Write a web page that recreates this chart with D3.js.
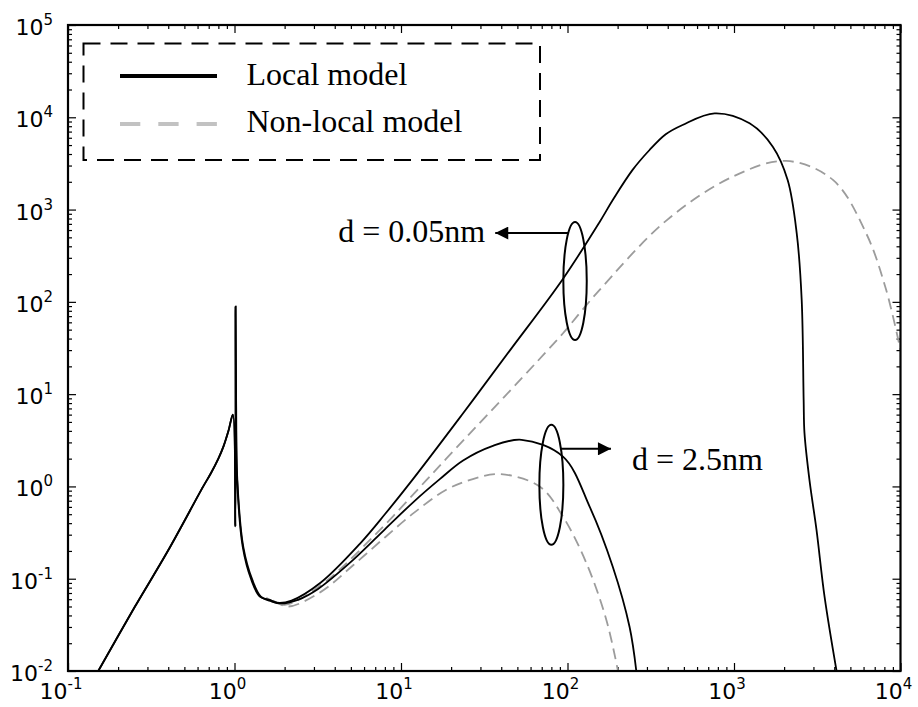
<!DOCTYPE html>
<html>
<head>
<meta charset="utf-8">
<script src="https://cdn.jsdelivr.net/npm/d3@7"></script>
<style>
  body { margin: 0; background: #fff; }
  .tick line { stroke: #000; stroke-width: 1.2px; }
</style>
</head>
<body>
<div id="chart"></div>
<script>
// DATA
// local model, d = 0.05nm
localThinX = [0.152, 0.251, 0.396, 0.649, 0.72, 0.8, 0.86, 0.92, 0.978, 1.012, 1.015, 1.022, 1.037, 1.12, 1.26, 1.42, 1.63, 1.8, 2.2, 3.3, 5.66, 8, 11.8, 23, 45, 93.6, 156, 187, 246, 311, 389, 491, 765, 1240, 1710, 2100, 2380, 2550, 2620, 2650, 2840, 3130, 3500, 4130];
localThinY = [0.01, 0.049, 0.197, 1.0, 1.38, 2.0, 2.73, 4.0, 6.0, 0.37, 89, 10, 1.17, 0.223, 0.098, 0.064, 0.059, 0.055, 0.058, 0.091, 0.239, 0.499, 1.2, 5.84, 29.6, 176, 735, 1270, 2690, 4420, 6550, 8260, 11040, 8610, 4800, 2090, 557, 105, 8.65, 3.8, 1.17, 0.338, 0.0635, 0.01];

// local model, d = 2.5nm
localThickX = [0.152, 0.251, 0.396, 0.649, 0.72, 0.8, 0.86, 0.92, 0.978, 1.012, 1.015, 1.022, 1.04, 1.13, 1.28, 1.44, 1.66, 1.9, 2.4, 3.16, 5.16, 8, 12, 17.1, 23.6, 35, 53, 94, 136, 187, 236, 259];
localThickY = [0.01, 0.049, 0.197, 1.0, 1.38, 2.0, 2.73, 4.0, 6.0, 0.37, 89, 10, 1.17, 0.22, 0.097, 0.064, 0.057, 0.054, 0.059, 0.077, 0.16, 0.343, 0.69, 1.2, 1.91, 2.72, 3.2, 2.1, 0.60, 0.135, 0.030, 0.01];

// non-local model, d = 0.05nm
nonlocalThinX = [1.55, 2.0, 3.3, 7.13, 14.2, 18.7, 94, 118, 156, 392, 984, 2060, 3930, 6220, 8200, 10000];
nonlocalThinY = [0.062, 0.052, 0.085, 0.31, 1.17, 2.0, 45.7, 75, 135, 760, 2275, 3365, 2095, 553, 135, 30];

// non-local model, d = 2.5nm
nonlocalThickX = [1.7, 2.1, 3.3, 5.16, 8, 12, 18.7, 27, 39.2, 68, 94, 130, 171, 201];
nonlocalThickY = [0.058, 0.050, 0.072, 0.14, 0.28, 0.52, 0.92, 1.2, 1.36, 1.0, 0.47, 0.147, 0.036, 0.01];

// TICKS (powers of ten)
xTickExps = ["-1", "0", "1", "2", "3", "4"];
yTickExps = ["-2", "-1", "0", "1", "2", "3", "4", "5"];

// LEGEND AND NOTES
legendLabels = ["Local model", "Non-local model"];
noteLabels = ["d = 0.05nm", "d = 2.5nm"];

// CHART SIZE
margin = {top: 25, right: 17.5, bottom: 36, left: 68},
    width = 918 - margin.left - margin.right,
    height = 707 - margin.top - margin.bottom;

svg = d3.select("#chart")
          .append("svg")
            .attr("width", 918)
            .attr("height", 707)
          .append("g")
            .attr("transform", "translate(" + margin.left + "," + margin.top + ")");

// SCALES
x = d3.scaleLog().domain([0.1, 1e4]).range([0, width]);
y = d3.scaleLog().domain([0.01, 1e5]).range([height, 0]);

xMajor = xTickExps.map(function(e) { return Math.pow(10, +e); });
yMajor = yTickExps.map(function(e) { return Math.pow(10, +e); });
minorOf = function(majors) {
    out = [];
    majors.slice(0, -1).forEach(function(m) {
        d3.range(2, 10).forEach(function(k) { out.push(m * k); });
    });
    return out;
}

// TICKS ON ALL FOUR SIDES, POINTING IN
drawTicks = function(axisFn, scale, values, size, transform) {
    g = svg.append("g")
        .attr("transform", transform)
        .call(axisFn(scale).tickValues(values).tickSize(-size).tickFormat(""));
    g.select(".domain").remove();
}
drawTicks(d3.axisBottom, x, xMajor, 8, "translate(0," + height + ")");
drawTicks(d3.axisBottom, x, minorOf(xMajor), 4, "translate(0," + height + ")");
drawTicks(d3.axisTop, x, xMajor, 8, "translate(0,0)");
drawTicks(d3.axisTop, x, minorOf(xMajor), 4, "translate(0,0)");
drawTicks(d3.axisLeft, y, yMajor, 8, "translate(0,0)");
drawTicks(d3.axisLeft, y, minorOf(yMajor), 4, "translate(0,0)");
drawTicks(d3.axisRight, y, yMajor, 8, "translate(" + width + ",0)");
drawTicks(d3.axisRight, y, minorOf(yMajor), 4, "translate(" + width + ",0)");

// TICK LABELS
tickFont = "'DejaVu Sans', sans-serif";
xLabels = svg.append("g").selectAll("text")
    .data(xTickExps)
    .enter()
    .append("text")
      .attr("x", function(d) { return x(Math.pow(10, +d)) - 7; })
      .attr("y", height + 28)
      .attr("text-anchor", "middle")
      .style("font-family", tickFont)
      .style("font-size", "22px");
xLabels.append("tspan").text("10");
xLabels.append("tspan").attr("dy", -10).style("font-size", "15px").text(function(d) { return d; });

yLabels = svg.append("g").selectAll("text")
    .data(yTickExps)
    .enter()
    .append("text")
      .attr("x", -15)
      .attr("y", function(d) { return y(Math.pow(10, +d)) + 10; })
      .attr("text-anchor", "end")
      .style("font-family", tickFont)
      .style("font-size", "22px");
yLabels.append("tspan").text("10");
yLabels.append("tspan").attr("dy", -10).style("font-size", "15px").text(function(d) { return d; });

// CURVES
svg.append("clipPath")
    .attr("id", "clip")
  .append("rect")
    .attr("width", width)
    .attr("height", height);

zip = function(xs, ys) { return xs.map(function(v, i) { return [v, ys[i]]; }); }
series = [
    {pts: zip(nonlocalThinX, nonlocalThinY), model: "nonlocal"},
    {pts: zip(nonlocalThickX, nonlocalThickY), model: "nonlocal"},
    {pts: zip(localThinX, localThinY), model: "local"},
    {pts: zip(localThickX, localThickY), model: "local"}
];

line = d3.line()
    .x(function(d) { return x(d[0]); })
    .y(function(d) { return y(d[1]); })
    .curve(d3.curveCatmullRom.alpha(0.5));

svg.append("g")
    .attr("clip-path", "url(#clip)")
  .selectAll("path")
    .data(series)
    .enter()
    .append("path")
      .attr("d", function(d) { return line(d.pts); })
      .attr("fill", "none")
      .attr("stroke", function(d) { return d.model == "local" ? "#000" : "#9c9c9c"; })
      .attr("stroke-width", 1.8)
      .attr("stroke-dasharray", function(d) { return d.model == "local" ? null : "11,6"; });

// FRAME
svg.append("rect")
    .attr("width", width)
    .attr("height", height)
    .attr("fill", "none")
    .attr("stroke", "#000")
    .attr("stroke-width", 2.2);

// LEGEND
legend = svg.append("g").attr("transform", "translate(15.5,18.5)");
legend.append("rect")
    .attr("width", 456.5)
    .attr("height", 116.5)
    .attr("fill", "#fff")
    .attr("stroke", "#000")
    .attr("stroke-width", 2)
    .attr("stroke-dasharray", "17,10");
legend.selectAll("line")
    .data(legendLabels)
    .enter()
    .append("line")
      .attr("x1", 36.5)
      .attr("x2", 133.5)
      .attr("y1", function(d, i) { return 32.5 + i * 48; })
      .attr("y2", function(d, i) { return 32.5 + i * 48; })
      .attr("stroke", function(d, i) { return i == 0 ? "#000" : "#c2c2c2"; })
      .attr("stroke-width", 4)
      .attr("stroke-dasharray", function(d, i) { return i == 0 ? null : "20.3,18"; });
legend.selectAll("text")
    .data(legendLabels)
    .enter()
    .append("text")
      .attr("x", 163)
      .attr("y", function(d, i) { return 41.5 + i * 47; })
      .style("font-family", "'Liberation Serif', 'Times New Roman', serif")
      .style("font-size", "32px")
      .text(function(d) { return d; });

// ELLIPSES AND ARROWS
notes = [
    {label: noteLabels[0], cx: 111, cy: 168, rx: 11.7, ry: 59, dy: -48, side: -1, len: 73},
    {label: noteLabels[1], cx: 80, cy: 1.04, rx: 12, ry: 60, dy: -36, side: 1, len: 50}
];

svg.append("defs").append("marker")
    .attr("id", "head")
    .attr("viewBox", "0 0 10 10")
    .attr("refX", 10)
    .attr("refY", 5)
    .attr("markerUnits", "userSpaceOnUse")
    .attr("markerWidth", 15)
    .attr("markerHeight", 13)
    .attr("orient", "auto")
  .append("path")
    .attr("d", "M0,0L10,5L0,10z")
    .attr("fill", "#000");

notes.forEach(function(n) {
    cx = x(n.cx), cy = y(n.cy);
    svg.append("ellipse")
        .attr("cx", cx)
        .attr("cy", cy)
        .attr("rx", n.rx)
        .attr("ry", n.ry)
        .attr("fill", "none")
        .attr("stroke", "#000")
        .attr("stroke-width", 2);
    ax = cx + n.side * n.rx * Math.sqrt(1 - Math.pow(n.dy / n.ry, 2));
    tip = ax + n.side * n.len;
    svg.append("line")
        .attr("x1", ax)
        .attr("x2", tip)
        .attr("y1", cy + n.dy)
        .attr("y2", cy + n.dy)
        .attr("stroke", "#000")
        .attr("stroke-width", 2)
        .attr("marker-end", "url(#head)");
    svg.append("text")
        .attr("x", n.side < 0 ? tip - 10 : tip + 21)
        .attr("y", cy + n.dy + (n.side < 0 ? 9 : 21))
        .attr("text-anchor", n.side < 0 ? "end" : "start")
        .style("font-family", "'Liberation Serif', 'Times New Roman', serif")
        .style("font-size", "32px")
        .text(n.label);
});
</script>
</body>
</html>
